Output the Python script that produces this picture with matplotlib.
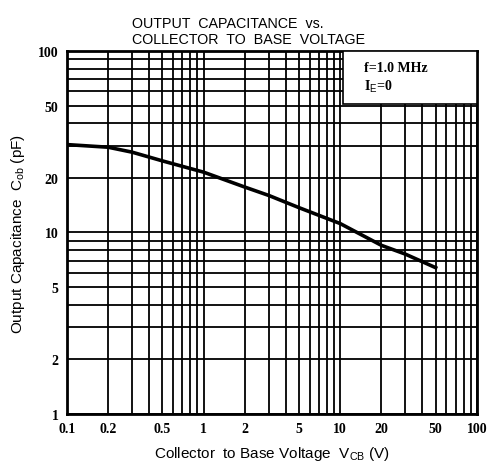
import matplotlib.pyplot as plt
from matplotlib.patches import Rectangle

# curve
vcb = [0.1, 0.2, 0.3, 0.5, 1, 2, 3, 5, 10, 20, 30, 50]
cob = [30.5, 29.5, 27.7, 24.8, 21.5, 17.8, 16.0, 13.7, 11.2, 8.5, 7.6, 6.4]

xticks = [0.1, 0.2, 0.5, 1, 2, 5, 10, 20, 50, 100]
xlabels = ['0.1', '0.2', '0.5', '1', '2', '5', '10', '20', '50', '100']
yticks = [1, 2, 5, 10, 20, 50, 100]
ylabels = ['1', '2', '5', '10', '20', '50', '100']

plt.rcParams['mathtext.fontset'] = 'custom'
plt.rcParams['mathtext.rm'] = 'Liberation Sans'

fig = plt.figure(figsize=(4.89, 4.77), dpi=100)
ax = fig.add_axes([0.137, 0.130, 0.838, 0.761])
ax.set_xscale('log')
ax.set_yscale('log')
ax.set_xlim(0.1, 100)
ax.set_ylim(1, 100)

ax.plot(vcb, cob, color='black', lw=2.6, zorder=3)

# condition box in the upper right
ax.add_patch(Rectangle((0.673, 0.854), 0.327, 0.146, transform=ax.transAxes,
                       facecolor='white', edgecolor='black', lw=1.2, zorder=4))
ax.text(0.725, 0.955, 'f=1.0 MHz', transform=ax.transAxes, fontsize=10,
        family='Liberation Serif', fontweight='bold', va='center', zorder=5)
ax.text(0.725, 0.905, r'I$_{\rm E}$=0', transform=ax.transAxes, fontsize=10,
        family='Liberation Serif', fontweight='bold', va='center', zorder=5)

ax.set_xticks(xticks)
ax.set_xticklabels(xlabels, family='Liberation Serif', fontweight='bold', fontsize=10)
ax.set_yticks(yticks)
ax.set_yticklabels(ylabels, family='Liberation Serif', fontweight='bold', fontsize=10)
ax.set_xticks([m * d for d in [0.1, 1, 10] for m in range(2, 10)], minor=True)
ax.set_yticks([m * d for d in [1, 10] for m in range(2, 10)], minor=True)
ax.tick_params(which='both', length=0, pad=6)
ax.tick_params(which='minor', labelleft=False, labelbottom=False)
ax.grid(True, which='both', color='black', lw=1.3)
ax.set_axisbelow(True)
for s in ax.spines.values():
    s.set_linewidth(2)

ax.set_xlabel(r'Collector  to Base Voltage  V$_{\rm CB}$ (V)', family='Liberation Sans',
              fontsize=11, labelpad=6)
ax.set_ylabel(r'Output Capacitance  C$_{\rm ob}$ (pF)', family='Liberation Sans',
              fontsize=11, labelpad=8)
fig.text(0.27, 0.933, 'OUTPUT  CAPACITANCE  vs.\nCOLLECTOR  TO  BASE  VOLTAGE',
         ha='left', va='center', family='Liberation Sans', fontsize=10.3, linespacing=1.1)

fig.savefig('out.png', dpi=100)
